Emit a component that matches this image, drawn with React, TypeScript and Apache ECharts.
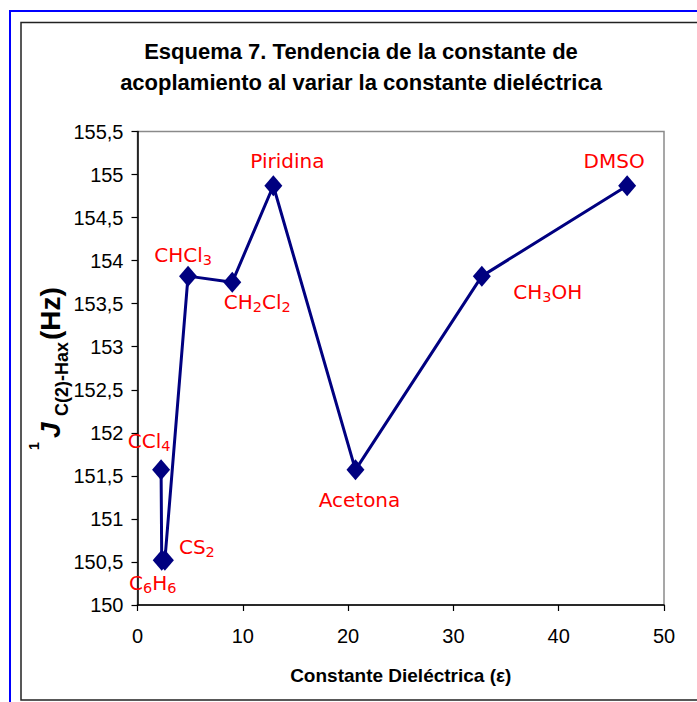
import React, { useEffect, useRef } from "react";
import * as echarts from "echarts";

const solventLabels = [
  "CCl{s|4}",
  "C{s|6}H{s|6}",
  "CS{s|2}",
  "CHCl{s|3}",
  "CH{s|2}Cl{s|2}",
  "Piridina",
  "Acetona",
  "CH{s|3}OH",
  "DMSO",
];
const epsilon = [2.24, 2.3, 2.6, 4.8, 9.0, 12.9, 20.7, 32.7, 46.5];
const couplingJ = [151.57, 150.52, 150.52, 153.82, 153.75, 154.87, 151.57, 153.82, 154.87];
const labelOffsets: [number, number][] = [
  [-12, -29],
  [-9, 23],
  [32, -13],
  [-5, -21],
  [25, 20],
  [14, -25],
  [4, 30],
  [66, 16],
  [-13, -25],
];
const xTicks = { min: 0, max: 50, interval: 10 };
const yTicks = { min: 150, max: 155.5, interval: 0.5 };

export default function App() {
  const ref = useRef<HTMLDivElement>(null);
  useEffect(() => {
    if (!ref.current) return;
    const chart = echarts.init(ref.current, undefined, { renderer: "svg" });
    const data = epsilon.map((e, i) => ({
      value: [e, couplingJ[i]],
      label: {
        show: true,
        formatter: solventLabels[i],
        position: "inside",
        offset: labelOffsets[i],
      },
    }));
    chart.setOption({
      animation: false,
      backgroundColor: "#ffffff",
      title: {
        text: "Esquema 7. Tendencia de la constante de\nacoplamiento al variar la constante dieléctrica",
        left: 356,
        top: 31,
        textAlign: "center",
        textStyle: {
          fontFamily: "Liberation Sans",
          fontWeight: "bold",
          fontSize: 22,
          lineHeight: 31,
          color: "#000",
        },
      },
      grid: {
        left: 137.5,
        top: 131.5,
        right: 33,
        bottom: 97,
        show: true,
        borderColor: "#8a8a8a",
        borderWidth: 1.5,
      },
      xAxis: {
        type: "value",
        min: xTicks.min,
        max: xTicks.max,
        interval: xTicks.interval,
        name: "Constante Dieléctrica (ε)",
        nameLocation: "middle",
        nameGap: 61,
        nameTextStyle: {
          fontFamily: "Liberation Sans",
          fontWeight: "bold",
          fontSize: 19,
          color: "#000",
        },
        axisLine: { lineStyle: { color: "#000", width: 1.5 } },
        axisTick: { length: 6, lineStyle: { color: "#000", width: 1.2 } },
        axisLabel: {
          fontFamily: "Liberation Sans",
          fontSize: 20,
          color: "#000",
          margin: 21,
        },
        splitLine: { show: false },
      },
      yAxis: {
        type: "value",
        min: yTicks.min,
        max: yTicks.max,
        interval: yTicks.interval,
        axisLine: { show: true, lineStyle: { color: "#000", width: 1.5 } },
        axisTick: { show: true, length: 6, lineStyle: { color: "#000", width: 1.2 } },
        axisLabel: {
          fontFamily: "Liberation Sans",
          fontSize: 20,
          color: "#000",
          margin: 14,
          formatter: (v: number) => String(v).replace(".", ","),
        },
        splitLine: { show: false },
      },
      series: [
        {
          type: "line",
          data,
          symbol: "diamond",
          symbolSize: [18, 21],
          itemStyle: { color: "#000080" },
          lineStyle: { color: "#000080", width: 3 },
          label: {
            color: "#ff0000",
            fontFamily: "DejaVu Sans",
            fontSize: 20,
            rich: {
              s: {
                fontFamily: "DejaVu Sans",
                fontSize: 14.5,
                color: "#ff0000",
                padding: [10, 0, 0, 0],
              },
            },
          },
          z: 3,
        },
      ],
      graphic: [
        {
          type: "rect",
          shape: { x: 10, y: 11, width: 900, height: 900 },
          style: { fill: "none", stroke: "#0000ff", lineWidth: 2 },
          silent: true,
        },
        {
          type: "rect",
          shape: { x: 21, y: 22.5, width: 900, height: 677.5 },
          style: { fill: "none", stroke: "#222", lineWidth: 1.5 },
          silent: true,
        },
        {
          type: "group",
          x: 62,
          y: 451,
          rotation: Math.PI / 2,
          children: [
            {
              type: "text",
              x: 1,
              y: -21,
              style: {
                text: "1",
                font: "bold 14px 'Liberation Sans'",
                fill: "#000",
                textVerticalAlign: "bottom",
              },
            },
            {
              type: "text",
              x: 13,
              y: 2,
              style: {
                text: "J",
                font: "italic bold 28px 'Liberation Sans'",
                fill: "#000",
                textVerticalAlign: "bottom",
              },
            },
            {
              type: "text",
              x: 35,
              y: 9,
              style: {
                text: "C(2)-Hax",
                font: "bold 18px 'Liberation Sans'",
                fill: "#000",
                textVerticalAlign: "bottom",
              },
            },
            {
              type: "text",
              x: 111,
              y: 2,
              style: {
                text: "(Hz)",
                font: "bold 28px 'Liberation Sans'",
                fill: "#000",
                textVerticalAlign: "bottom",
              },
            },
          ],
        },
      ],
    });
    return () => chart.dispose();
  }, []);
  return (
    <div
      ref={ref}
      style={{ position: "fixed", left: 0, top: 0, width: 697, height: 702 }}
    />
  );
}
